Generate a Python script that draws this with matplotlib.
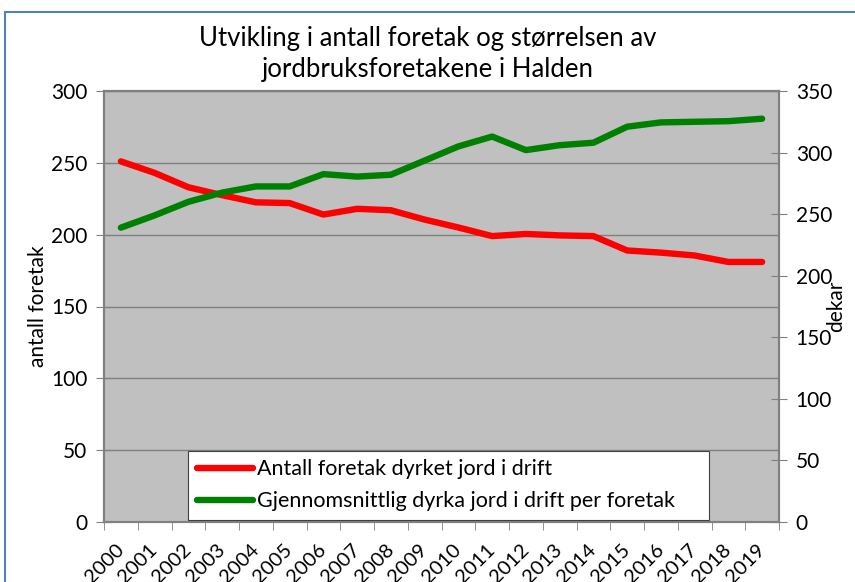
import matplotlib.pyplot as plt
from matplotlib.patches import Rectangle
import numpy as np

plt.rcParams['font.family'] = ['Lato', 'DejaVu Sans']

years = [str(y) for y in range(2000, 2020)]
antall = [251, 243, 233, 227.5, 222.5, 222, 214, 218, 217, 210.5,
          205, 199, 200.5, 199.5, 199, 189, 187.5, 185.5, 181, 181]
dekar = [239, 249, 260, 267.5, 272.5, 272.5, 282.5, 280.5, 282, 293.5,
         305, 313, 302, 306, 308, 321, 324.5, 325, 325.5, 327.5]

fig = plt.figure(figsize=(8.55, 5.82), dpi=100)
ax = fig.add_axes([104/855, 1 - 522/582, 675/855, 431/582])
ax2 = ax.twinx()

x = np.arange(len(years))
l1, = ax.plot(x, antall, color='#FF0000', lw=4.6, solid_capstyle='round',
              solid_joinstyle='round', label='Antall foretak dyrket jord i drift')
l2, = ax2.plot(x, dekar, color='#008000', lw=4.6, solid_capstyle='round',
               solid_joinstyle='round', label='Gjennomsnittlig dyrka jord i drift per foretak')

ax.set_facecolor('#C0C0C0')
ax.set_xlim(-0.5, len(years) - 0.5)
ax.set_ylim(0, 300)
ax2.set_ylim(0, 350)
ax.set_yticks(range(0, 301, 50))
ax2.set_yticks(range(0, 351, 50))
ax.yaxis.grid(True, color='#808080', lw=1)
ax.set_axisbelow(True)

ax.set_xticks(x)
ax.set_xticklabels(years, rotation=45, ha='right', va='center', rotation_mode='anchor')
ax.set_xticks(np.arange(-0.5, len(years)), minor=True)
ax.tick_params(axis='x', which='major', length=0, pad=18, labelsize=14.5)
ax.tick_params(axis='x', which='minor', length=6, color='#808080', direction='out')
ax.tick_params(axis='y', direction='inout', length=12, color='#808080', labelsize=15, pad=6)
ax2.tick_params(axis='y', direction='inout', length=12, color='#808080', labelsize=15, pad=6)

for a in (ax, ax2):
    for s in a.spines.values():
        s.set_color('#808080')
        s.set_linewidth(1.5)

ax.set_ylabel('antall foretak', fontsize=15, labelpad=2)
ax2.set_ylabel('dekar', fontsize=15)
ax2.yaxis.set_label_coords(1.07, 0.5)

fig.suptitle('Utvikling i antall foretak og størrelsen av\njordbruksforetakene i Halden',
             fontsize=18.5, y=0.955, linespacing=1.3)

leg = ax2.legend(handles=[l1, l2], loc='lower left', bbox_to_anchor=(84/675, 0.005, 521/675, 76/431),
                 mode='expand', fontsize=15.5, frameon=True, fancybox=False,
                 handlelength=2.6, handletextpad=0.2, borderaxespad=0, borderpad=0.4,
                 labelspacing=0.55)
leg.get_frame().set_edgecolor('#404040')
leg.get_frame().set_linewidth(0.8)
leg.get_frame().set_facecolor('white')
leg.get_frame().set_alpha(1)

fig.patches.append(Rectangle((5/855, -0.1), 1.2, 1 - 12/582 + 0.1, transform=fig.transFigure,
                             fill=False, edgecolor='#4F81BD', lw=1.5))

fig.savefig('out.png', dpi=100)
